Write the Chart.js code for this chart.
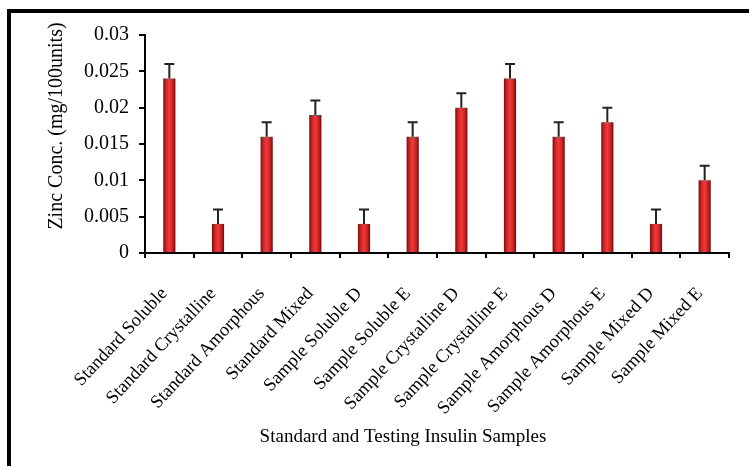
<!DOCTYPE html>
<html lang="en">
  <head>
    <meta charset="utf-8" />
    <style>
      * {
        margin: 0;
        padding: 0;
      }
      body {
        width: 749px;
        height: 466px;
        background: #fff;
        overflow: hidden;
        position: relative;
      }
      .frame {
        position: absolute;
        left: 7px;
        top: 9px;
        width: 800px;
        height: 500px;
        border-top: 4px solid #000;
        border-left: 4px solid #000;
      }
      .chartBox {
        position: absolute;
        left: 0;
        top: 0;
        width: 749px;
        height: 466px;
      }
    </style>
  </head>
  <body>
    <div class="frame"></div>
    <div class="chartBox">
      <canvas id="myChart"></canvas>
    </div>
    <script src="https://cdn.jsdelivr.net/npm/chart.js/dist/chart.umd.min.js"></script>
    <script>
      // data
      const samples = [
        "Standard Soluble",
        "Standard Crystalline",
        "Standard Amorphous",
        "Standard Mixed",
        "Sample Soluble D",
        "Sample Soluble E",
        "Sample Crystalline D",
        "Sample Crystalline E",
        "Sample Amorphous D",
        "Sample Amorphous E",
        "Sample Mixed D",
        "Sample Mixed E",
      ];
      const zincConc = [0.024, 0.004, 0.016, 0.019, 0.004, 0.016, 0.020, 0.024, 0.016, 0.018, 0.004, 0.010];
      const zincErr = [0.002, 0.002, 0.002, 0.002, 0.002, 0.002, 0.002, 0.002, 0.002, 0.002, 0.002, 0.002];
      const xTitle = "Standard and Testing Insulin Samples";
      const yTitle = "Zinc Conc. (mg/100units)";

      const serif = "'Liberation Serif', 'Times New Roman', serif";

      // bar look: dark edges, bright middle
      const barFill = (c) => {
        const chart = c.chart;
        const xs = chart.scales && chart.scales.x;
        if (!xs || c.dataIndex === undefined) return "#d32f2f";
        const cx = xs.getPixelForValue(c.dataIndex);
        if (!isFinite(cx)) return "#d32f2f";
        const g = chart.ctx.createLinearGradient(cx - 6, 0, cx + 6, 0);
        g.addColorStop(0, "#7d0d0d");
        g.addColorStop(0.25, "#d42626");
        g.addColorStop(0.5, "#ee3b3b");
        g.addColorStop(0.8, "#c81f1f");
        g.addColorStop(1, "#6e0a0a");
        return g;
      };

      // upper error bars
      const errorBars = {
        id: "errorBars",
        afterDatasetsDraw(chart) {
          const { ctx } = chart;
          const y = chart.scales.y;
          const meta = chart.getDatasetMeta(0);
          ctx.save();
          ctx.strokeStyle = "#222";
          ctx.lineWidth = 2;
          meta.data.forEach((bar, i) => {
            const top = y.getPixelForValue(zincConc[i] + zincErr[i]);
            const base = y.getPixelForValue(zincConc[i]);
            ctx.beginPath();
            ctx.moveTo(bar.x, base);
            ctx.lineTo(bar.x, top);
            ctx.moveTo(bar.x - 5, top);
            ctx.lineTo(bar.x + 5, top);
            ctx.stroke();
          });
          ctx.restore();
        },
      };

      // axis titles, placed like the original (a bit off the plot centre)
      const axisTitles = {
        id: "axisTitles",
        afterDraw(chart) {
          const { ctx, chartArea: a } = chart;
          ctx.save();
          ctx.fillStyle = "#000";
          ctx.textAlign = "center";
          ctx.textBaseline = "middle";
          ctx.font = `19px ${serif}`;
          ctx.fillText(xTitle, (a.left + a.right) / 2 - 34, 437);
          ctx.translate(57, (a.top + a.bottom) / 2 - 18);
          ctx.rotate(-Math.PI / 2);
          ctx.font = `20px ${serif}`;
          ctx.fillText(yTitle, 0, 0);
          ctx.restore();
        },
      };

      const config = {
        type: "bar",
        data: {
          labels: samples,
          datasets: [
            {
              label: "Zinc",
              data: zincConc,
              backgroundColor: barFill,
              barPercentage: 0.25,
              categoryPercentage: 1,
            },
          ],
        },
        options: {
          responsive: false,
          animation: false,
          layout: { padding: { left: 45, right: 20, top: 35, bottom: 0 } },
          plugins: {
            legend: { display: false },
            tooltip: { enabled: false },
          },
          scales: {
            x: {
              grid: {
                display: true,
                drawOnChartArea: false,
                drawTicks: true,
                tickLength: 5,
                color: "#000",
                lineWidth: 2,
              },
              border: { color: "#000", width: 2 },
              ticks: {
                color: "#000",
                font: { family: serif, size: 18.5 },
                minRotation: 47,
                maxRotation: 47,
                autoSkip: false,
                padding: 25,
                labelOffset: -5,
              },
              afterFit(scale) {
                scale.height = 213;
              },
            },
            y: {
              min: 0,
              max: 0.03,
              ticks: {
                stepSize: 0.005,
                color: "#000",
                font: { family: serif, size: 20 },
                padding: 10,
                callback: (v) => String(parseFloat(v.toFixed(3))),
              },
              grid: {
                display: true,
                drawOnChartArea: false,
                tickLength: 6,
                color: "#000",
                lineWidth: 2,
              },
              border: { color: "#000", width: 2 },
              afterFit(scale) {
                scale.width = 100;
              },
            },
          },
        },
      };

      const canvas = document.getElementById("myChart");
      canvas.width = 749;
      canvas.height = 466;
      const myChart = new Chart(canvas, { ...config, plugins: [errorBars, axisTitles] });
    </script>
  </body>
</html>
